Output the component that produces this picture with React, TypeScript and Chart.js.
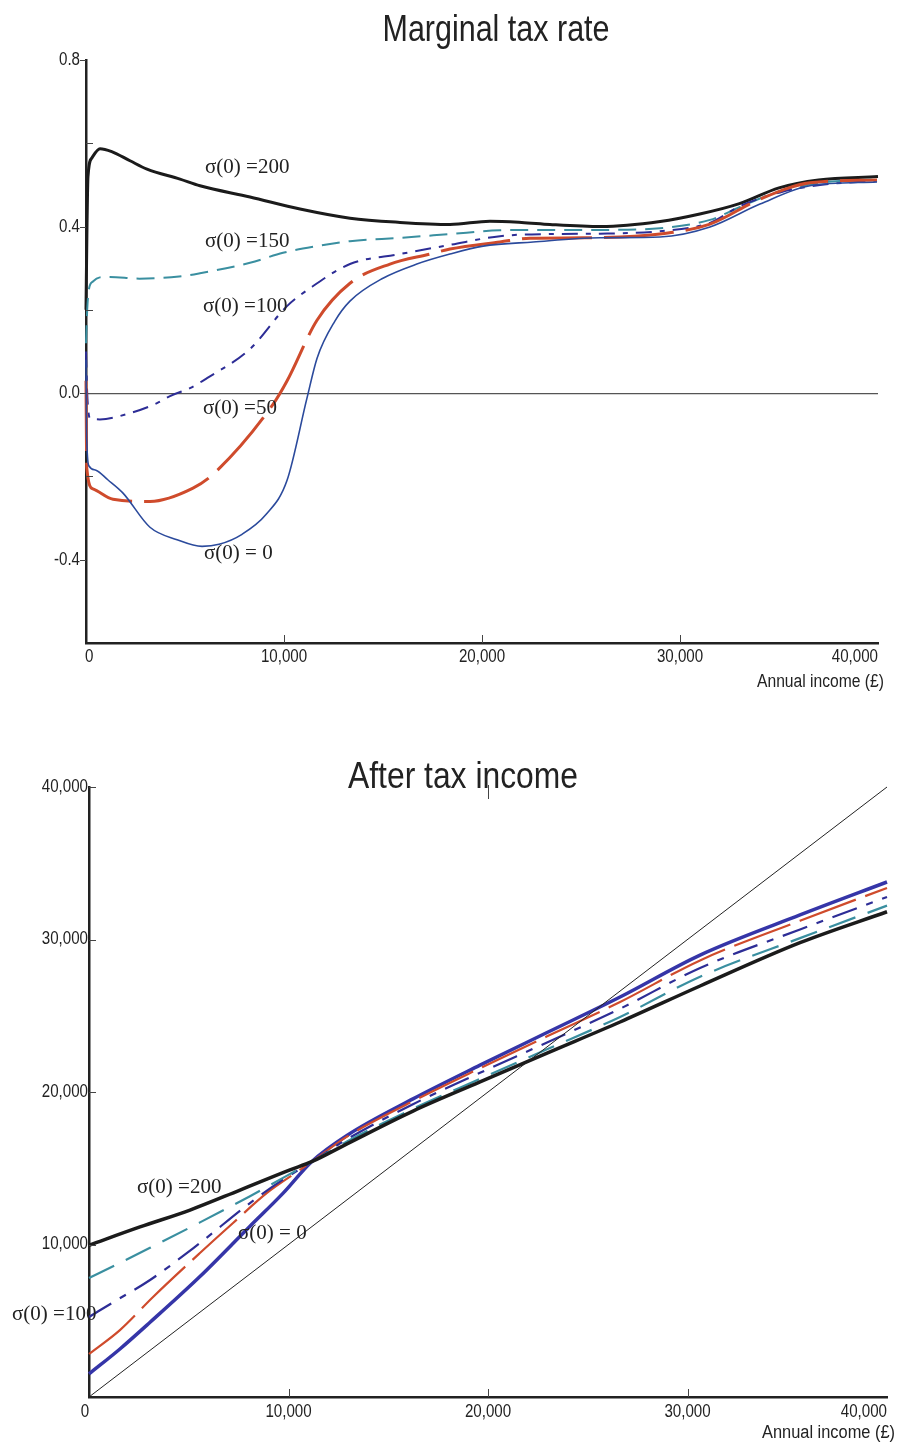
import React, { useEffect, useRef } from "react";
import { Chart, registerables } from "chart.js";

Chart.register(...registerables);

const SANS = '"Liberation Sans", Arial, Helvetica, sans-serif';
const SERIF = '"Liberation Serif", "Times New Roman", serif';

type Pt = [number, number];

// ---------- shared axis data ----------
const incomeTicks = [0, 10000, 20000, 30000, 40000];
const rateTicksLabelled = [0.8, 0.4, 0.0, -0.4];
const rateTicksMinor = [0.6, 0.2, -0.2];

// ---------- Marginal tax rate (income, rate) ----------
const mtrSigma200: Pt[] = [
  [0, 0.2], [50, 0.4], [100, 0.52], [300, 0.565], [707, 0.587], [1300, 0.58],
  [2222, 0.558], [3081, 0.538], [4747, 0.514], [5757, 0.498], [8283, 0.471],
  [10808, 0.442], [13333, 0.42], [15859, 0.41], [18384, 0.405], [20404, 0.413],
  [22000, 0.41], [23434, 0.405], [26000, 0.4], [29000, 0.412], [31000, 0.43],
  [33000, 0.455], [35000, 0.493], [37000, 0.512], [40000, 0.52],
];
const mtrSigma150: Pt[] = [
  [0, 0.12], [60, 0.2], [150, 0.25], [350, 0.268], [700, 0.278], [1200, 0.279],
  [2700, 0.275], [4700, 0.28], [5757, 0.288], [8283, 0.313], [9950, 0.337],
  [11660, 0.353], [13330, 0.365], [15860, 0.373], [18380, 0.382], [20900, 0.391],
  [23430, 0.392], [25960, 0.392], [28990, 0.396], [31515, 0.416], [33030, 0.447],
  [35050, 0.485], [37070, 0.505], [39950, 0.514],
];
const mtrSigma100: Pt[] = [
  [0, 0.1], [60, 0.0], [200, -0.06], [700, -0.063], [2222, -0.048], [3586, -0.024],
  [4242, -0.007], [5252, 0.012], [6111, 0.036], [8283, 0.106], [10152, 0.209],
  [11313, 0.252], [13333, 0.31], [15859, 0.334], [18384, 0.356], [20909, 0.377],
  [23434, 0.382], [25960, 0.383], [28990, 0.389], [31515, 0.409], [33030, 0.449],
  [35050, 0.482], [37070, 0.5], [39950, 0.51],
];
const mtrSigma50: Pt[] = [
  [0, 0.03], [40, -0.18], [350, -0.23], [1364, -0.255], [3232, -0.26], [5404, -0.228],
  [6414, -0.195], [9444, -0.027], [10151, 0.029], [11667, 0.175], [13333, 0.264],
  [15353, 0.31], [17374, 0.334], [18384, 0.346], [20909, 0.363], [22424, 0.372],
  [25101, 0.373], [28990, 0.382], [31515, 0.406], [34040, 0.466], [36560, 0.505],
  [39950, 0.512],
];
const mtrSigma0: Pt[] = [
  [0, 0.08], [30, -0.1], [150, -0.175], [500, -0.185], [1100, -0.208], [1870, -0.24],
  [3230, -0.322], [4600, -0.352], [5860, -0.368], [6720, -0.363], [7880, -0.339],
  [9100, -0.291], [10150, -0.21], [11160, -0.012], [11670, 0.084], [12570, 0.173],
  [13330, 0.221], [15000, 0.276], [16710, 0.31], [18380, 0.334], [20060, 0.353],
  [22580, 0.363], [25960, 0.373], [28990, 0.375], [31515, 0.399], [34040, 0.454],
  [36560, 0.498], [39950, 0.507],
];
const mtrLabelTexts = ["σ(0) =200", "σ(0) =150", "σ(0) =100", "σ(0) =50", "σ(0) = 0"];
const mtrLabelIncome = [6010, 6010, 5909, 5909, 5960];
const mtrLabelRate = [0.541, 0.365, 0.209, -0.036, -0.385];

// ---------- After tax income (income, after-tax income) ----------
const atiDiagonal: Pt[] = [[0, 0], [40000, 40000]];
const atiSigma200: Pt[] = [
  [0, 9950], [2556, 11150], [5063, 12260], [7570, 13570], [10075, 14890],
  [11160, 15430], [12930, 16600], [16240, 18750], [19600, 20660], [22960, 22550],
  [26620, 24590], [30630, 26950], [35640, 29790], [40000, 31820],
];
const atiSigma150: Pt[] = [
  [0, 7800], [1554, 8800], [3058, 9780], [5564, 11450], [8070, 13170], [9724, 14370],
  [11160, 15410], [12930, 16750], [16240, 18900], [19600, 20860], [22960, 22800],
  [26620, 24920], [30630, 27560], [35640, 30090], [40000, 32220],
];
const atiSigma100: Pt[] = [
  [0, 5250], [1400, 6360], [3060, 7670], [5560, 10100], [8070, 12720], [9720, 14250],
  [11160, 15410], [12930, 16900], [16240, 19200], [19600, 21260], [22960, 23250],
  [26620, 25460], [30630, 28130], [35640, 30660], [40000, 32790],
];
const atiSigma50: Pt[] = [
  [0, 2820], [1550, 4390], [3210, 6560], [5560, 9440], [7220, 11410], [8920, 13380],
  [10575, 14890], [11160, 15420], [12930, 17070], [16240, 19400], [19600, 21560],
  [22960, 23650], [26620, 25900], [30630, 28630], [35640, 31230], [40000, 33380],
];
const atiSigma0: Pt[] = [
  [0, 1510], [1550, 3150], [3060, 4900], [5560, 7900], [8070, 11200], [9720, 13350],
  [11160, 15430], [12930, 17150], [16240, 19550], [19600, 21760], [22960, 23900],
  [26620, 26230], [30630, 28980], [35640, 31610], [40000, 33770],
];
const atiTicksY = [10000, 20000, 30000, 40000];
const atiLabelTexts = ["σ(0) =200", "σ(0) = 0", "σ(0) =100"];
const atiLabelIncome = [2406, 7470, -3860];
const atiLabelValue = [13770, 10690, 5380];

// ---------- helpers ----------
const toXY = (arr: Pt[]) => arr.map(([x, y]) => ({ x, y }));

function lineDs(data: Pt[], color: string, width: number, dash: number[]) {
  return {
    data: toXY(data),
    borderColor: color,
    borderWidth: width,
    borderDash: dash,
    pointRadius: 0,
    fill: false,
    cubicInterpolationMode: "monotone" as const,
    clip: false as const,
    borderCapStyle: "butt" as const,
  };
}

const fmtThousands = (v: number) => Math.round(v).toLocaleString("en-US");
const fmtRate = (v: number) => (Math.abs(v) < 1e-9 ? "0.0" : v.toFixed(1));

function drawSqueezed(
  ctx: CanvasRenderingContext2D,
  text: string,
  x: number,
  y: number,
  align: CanvasTextAlign,
  sx: number
) {
  ctx.save();
  ctx.translate(x, y);
  ctx.scale(sx, 1);
  ctx.textAlign = align;
  ctx.fillText(text, 0, 0);
  ctx.restore();
}

function drawFitted(
  ctx: CanvasRenderingContext2D,
  text: string,
  x: number,
  y: number,
  align: CanvasTextAlign,
  width: number
) {
  const w = ctx.measureText(text).width;
  drawSqueezed(ctx, text, x, y, align, width / w);
}

interface Decor {
  title: string;
  titleX: number;
  titleY: number;
  titleW: number;
  caption: string;
  captionX: number;
  captionY: number;
  captionW: number;
  labelTexts: string[];
  labelX: number[];
  labelY: number[];
  xLabels: number[];
  xFirstAlign: CanvasTextAlign;
  xFirstDx: number;
  xLabelDy: number;
  yLabels: number[];
  yFmt: (v: number) => string;
  yLabelGap: number;
  xInner: number[];
  yInner: number[];
  yOuter: number[];
  xTop: number[];
}

const SQUEEZE = 0.84;

function decorPlugin(d: Decor) {
  return {
    id: "decor",
    afterDatasetsDraw(chart: any) {
      const ctx: CanvasRenderingContext2D = chart.ctx;
      const xs = chart.scales.x;
      const ys = chart.scales.y;
      const a = chart.chartArea;
      ctx.save();
      ctx.strokeStyle = "#444";
      ctx.lineWidth = 1;
      d.xInner.forEach((v) => {
        const px = Math.round(xs.getPixelForValue(v)) + 0.5;
        ctx.beginPath();
        ctx.moveTo(px, a.bottom);
        ctx.lineTo(px, a.bottom - 8);
        ctx.stroke();
      });
      d.xTop.forEach((v) => {
        const px = Math.round(xs.getPixelForValue(v)) + 0.5;
        ctx.beginPath();
        ctx.moveTo(px, a.top - 2);
        ctx.lineTo(px, a.top + 12);
        ctx.stroke();
      });
      d.yInner.forEach((v) => {
        const py = Math.round(ys.getPixelForValue(v)) + 0.5;
        ctx.beginPath();
        ctx.moveTo(a.left, py);
        ctx.lineTo(a.left + 7, py);
        ctx.stroke();
      });
      d.yOuter.forEach((v) => {
        const py = Math.round(ys.getPixelForValue(v)) + 0.5;
        ctx.beginPath();
        ctx.moveTo(a.left - 6, py);
        ctx.lineTo(a.left, py);
        ctx.stroke();
      });

      ctx.fillStyle = "#222";
      ctx.textBaseline = "middle";

      // tick labels
      ctx.font = `18px ${SANS}`;
      d.xLabels.forEach((v, i) => {
        const px = xs.getPixelForValue(v);
        const py = a.bottom + d.xLabelDy;
        const t = fmtThousands(v);
        if (i === 0) drawSqueezed(ctx, t, px + d.xFirstDx, py, d.xFirstAlign, SQUEEZE);
        else if (i === d.xLabels.length - 1) drawSqueezed(ctx, t, px, py, "right", SQUEEZE);
        else drawSqueezed(ctx, t, px, py, "center", SQUEEZE);
      });
      d.yLabels.forEach((v) => {
        drawSqueezed(ctx, d.yFmt(v), a.left - d.yLabelGap, ys.getPixelForValue(v), "right", SQUEEZE);
      });

      // title and caption
      ctx.font = `36px ${SANS}`;
      drawFitted(ctx, d.title, d.titleX, d.titleY, "center", d.titleW);
      ctx.font = `18px ${SANS}`;
      drawFitted(ctx, d.caption, d.captionX, d.captionY, "right", d.captionW);

      // curve labels
      ctx.textAlign = "left";
      ctx.font = `21px ${SERIF}`;
      d.labelTexts.forEach((t, i) => {
        ctx.fillText(t, xs.getPixelForValue(d.labelX[i]), ys.getPixelForValue(d.labelY[i]));
      });
      ctx.restore();
    },
  };
}

function baseScales(xHeight: number, yWidth: number, yMin: number, yMax: number, yStep: number) {
  return {
    x: {
      type: "linear",
      min: incomeTicks[0],
      max: incomeTicks[incomeTicks.length - 1],
      afterFit: (s: any) => { s.height = xHeight; },
      afterBuildTicks: (s: any) => { s.ticks = incomeTicks.map((v) => ({ value: v })); },
      grid: { display: false },
      border: { display: true, color: "#222", width: 2.5 },
      ticks: { display: false },
    },
    y: {
      type: "linear",
      min: yMin,
      max: yMax,
      afterFit: (s: any) => { s.width = yWidth; },
      ticks: { display: false, stepSize: yStep },
      grid: { display: false },
      border: { display: true, color: "#222", width: 2.5 },
    },
  };
}

function topConfig(): any {
  const scales: any = baseScales(57, 86, -0.6, 0.8, 0.2);
  scales.y.grid = {
    display: true,
    drawTicks: false,
    lineWidth: 1.2,
    color: (c: any) => (c.tick && Math.abs(c.tick.value) < 1e-9 ? "#555" : "rgba(0,0,0,0)"),
  };
  return {
    type: "line",
    data: {
      datasets: [
        lineDs(mtrSigma0, "#2b4a9c", 1.6, []),
        lineDs(mtrSigma50, "#cf4b2c", 3, [70, 12]),
        lineDs(mtrSigma100, "#2d2d96", 2, [16, 8, 5, 8]),
        lineDs(mtrSigma150, "#3a8fa0", 2, [18, 9]),
        lineDs(mtrSigma200, "#1b1b1b", 3, []),
      ],
    },
    options: {
      responsive: false,
      animation: false,
      events: [],
      layout: { padding: { top: 60, right: 19, left: 0, bottom: 0 } },
      plugins: { legend: { display: false }, tooltip: { enabled: false }, title: { display: false } },
      scales,
    },
    plugins: [
      decorPlugin({
        title: "Marginal tax rate",
        titleX: 496,
        titleY: 31,
        titleW: 227,
        caption: "Annual income (£)",
        captionX: 884,
        captionY: 682,
        captionW: 127,
        labelTexts: mtrLabelTexts,
        labelX: mtrLabelIncome,
        labelY: mtrLabelRate,
        xLabels: incomeTicks,
        xFirstAlign: "left",
        xFirstDx: -1,
        xLabelDy: 14,
        yLabels: rateTicksLabelled,
        yFmt: fmtRate,
        yLabelGap: 6,
        xInner: incomeTicks.slice(1, -1),
        yInner: rateTicksMinor,
        yOuter: rateTicksLabelled,
        xTop: [],
      }),
    ],
  };
}

function bottomConfig(): any {
  const scales: any = baseScales(52, 89, 0, 40000, 10000);
  return {
    type: "line",
    data: {
      datasets: [
        lineDs(atiDiagonal, "#222", 1, []),
        lineDs(atiSigma200, "#1b1b1b", 3.5, []),
        lineDs(atiSigma150, "#3a8fa0", 2.2, [28, 13]),
        lineDs(atiSigma100, "#2d2d96", 2.2, [26, 10, 7, 10]),
        lineDs(atiSigma50, "#cf4b2c", 2.2, [60, 10]),
        lineDs(atiSigma0, "#3535a8", 3.5, []),
      ],
    },
    options: {
      responsive: false,
      animation: false,
      events: [],
      layout: { padding: { top: 87, right: 10, left: 0, bottom: 0 } },
      plugins: { legend: { display: false }, tooltip: { enabled: false }, title: { display: false } },
      scales,
    },
    plugins: [
      decorPlugin({
        title: "After tax income",
        titleX: 463,
        titleY: 78,
        titleW: 230,
        caption: "Annual income (£)",
        captionX: 895,
        captionY: 733,
        captionW: 133,
        labelTexts: atiLabelTexts,
        labelX: atiLabelIncome,
        labelY: atiLabelValue,
        xLabels: incomeTicks,
        xFirstAlign: "center",
        xFirstDx: -4,
        xLabelDy: 15,
        yLabels: atiTicksY,
        yFmt: fmtThousands,
        yLabelGap: 1,
        xInner: incomeTicks.slice(1, -1),
        yInner: atiTicksY,
        yOuter: [],
        xTop: [20000],
      }),
    ],
  };
}

function ChartCanvas({ width, height, top, make }: { width: number; height: number; top: number; make: () => any }) {
  const ref = useRef<HTMLCanvasElement>(null);
  useEffect(() => {
    if (!ref.current) return;
    const chart = new Chart(ref.current, make());
    return () => chart.destroy();
  }, [make]);
  return (
    <canvas
      ref={ref}
      width={width}
      height={height}
      style={{ position: "absolute", left: 0, top, width, height, display: "block" }}
    />
  );
}

export default function App() {
  return (
    <div style={{ position: "absolute", left: 0, top: 0, width: 897, height: 1449, background: "#fff", overflow: "hidden" }}>
      <ChartCanvas width={897} height={700} top={0} make={topConfig} />
      <ChartCanvas width={897} height={749} top={700} make={bottomConfig} />
    </div>
  );
}
